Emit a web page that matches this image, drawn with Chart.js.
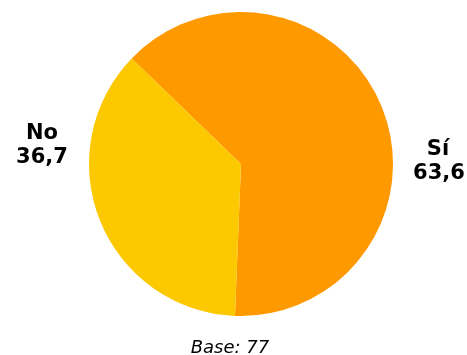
<!DOCTYPE html>
<html><head><meta charset="utf-8">
<script src="https://cdn.jsdelivr.net/npm/chart.js@4"></script>
<style>html,body{margin:0;padding:0;background:#fff}#wrap{width:467px;height:355px}</style>
</head><body><div id="wrap"><canvas id="c" width="467" height="355"></canvas></div>
<script>
const categories = ["Sí", "No"];
const valueLabels = ["63,6", "36,7"];
const values = [63.6, 36.7];
const colors = ["#FF9900", "#FCC800"];
const baseText = "Base: 77";

const sideLabels = {
  id: 'sideLabels',
  afterDraw(chart) {
    const ctx = chart.ctx, a = chart.chartArea;
    const cy = (a.top + a.bottom) / 2;
    ctx.save();
    ctx.fillStyle = '#000';
    ctx.textAlign = 'center';
    ctx.textBaseline = 'alphabetic';
    ctx.font = 'bold 21px "DejaVu Sans"';
    ctx.fillText(categories[0], a.right + 45, cy - 9);
    ctx.fillText(valueLabels[0], a.right + 46, cy + 15);
    ctx.fillText(categories[1], a.left - 47, cy - 25);
    ctx.fillText(valueLabels[1], a.left - 47, cy - 1);
    ctx.font = 'italic 18px "DejaVu Sans"';
    ctx.fillText(baseText, 230, 353);
    ctx.restore();
  }
};

new Chart(document.getElementById('c'), {
  type: 'pie',
  data: { labels: categories, datasets: [{ data: values, backgroundColor: colors, borderWidth: 0 }] },
  options: {
    responsive: false, animation: false, rotation: -46,
    layout: { padding: { left: 89, right: 74, top: 12, bottom: 39 } },
    plugins: { legend: { display: false }, tooltip: { enabled: false } }
  },
  plugins: [sideLabels]
});
</script></body></html>
